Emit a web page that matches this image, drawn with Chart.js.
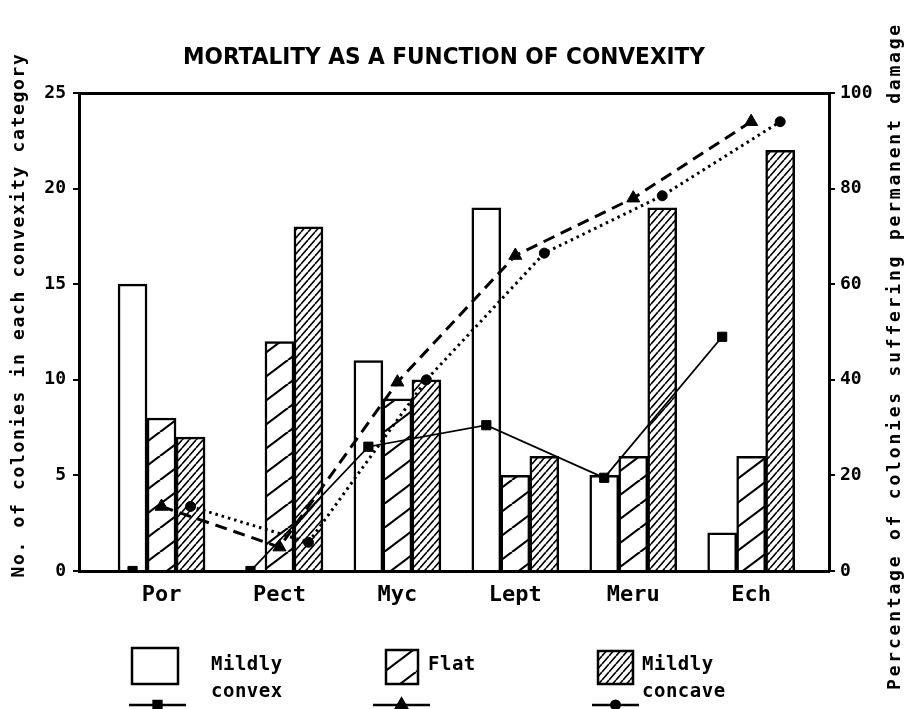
<!DOCTYPE html>
<html>
<head>
<meta charset="utf-8">
<script src="https://cdn.jsdelivr.net/npm/chart.js@4.4.1/dist/chart.umd.min.js"></script>
<style>
  html, body { margin: 0; background: #fff; }
  canvas { display: block; }
</style>
</head>
<body>
<canvas id="chart-canvas" width="910" height="709"></canvas>
<script>
// Colony counts per convexity class, and % of colonies with permanent damage
const categories = ['Por', 'Pect', 'Myc', 'Lept', 'Meru', 'Ech'];
const convexCount = [15, 0, 11, 19, 5, 2];
const flatCount = [8, 12, 9, 5, 6, 6];
const concaveCount = [7, 18, 10, 6, 19, 22];
const convexDamage = [0, 0, 26, 30.5, 19.5, 49];
const flatDamage = [13.5, 5, 39.5, 66, 78, 94];
const concaveDamage = [13.5, 6, 40, 66.5, 78.5, 94];
const countTicks = [0, 5, 10, 15, 20, 25];
const damageTicks = [0, 20, 40, 60, 80, 100];

const MONO = '"DejaVu Sans Mono", "Liberation Mono", monospace';
const BAR_WIDTH = 29;      // px
const BAR_SHIFT = 0.246;   // one bar width in x-axis units

// Diagonal hatch fill: tile of w x h with one "/" line across it
function hatch(w, h, lineWidth) {
  const c = document.createElement('canvas');
  c.width = w; c.height = h;
  const g = c.getContext('2d');
  g.fillStyle = '#fff';
  g.fillRect(0, 0, w, h);
  g.strokeStyle = '#000';
  g.lineWidth = lineWidth;
  g.beginPath();
  for (const k of [-1, 0, 1]) {
    g.moveTo(k * w, h);
    g.lineTo((k + 1) * w, 0);
  }
  g.stroke();
  return g.createPattern(c, 'repeat');
}

const flatFill = hatch(32, 24, 2.2);
const concaveFill = hatch(7, 8, 1.6);

const toPoints = (values, shift) => values.map((v, i) => ({ x: i + 1 + shift, y: v }));

function spacedText(ctx, text, x, y, width) {
  ctx.letterSpacing = '0px';
  const natural = ctx.measureText(text).width;
  ctx.letterSpacing = ((width - natural) / text.length) + 'px';
  ctx.fillText(text, x, y);
  ctx.letterSpacing = '0px';
}

// Narrow, tall lettering: draw at full size and squeeze horizontally
function squeezedText(ctx, text, x, y, width) {
  const natural = ctx.measureText(text).width;
  ctx.save();
  ctx.translate(x, y);
  ctx.scale(width / natural, 1);
  ctx.fillText(text, 0, 0);
  ctx.restore();
}

// Title, side titles and the two-row legend under the axis
const decorations = {
  id: 'decorations',
  afterDraw(chart) {
    const ctx = chart.ctx;
    const ds = chart.data.datasets;
    ctx.save();
    ctx.fillStyle = '#000';
    ctx.textBaseline = 'middle';

    ctx.textAlign = 'center';
    ctx.font = 'bold 23px "DejaVu Sans", sans-serif';
    squeezedText(ctx, 'MORTALITY AS A FUNCTION OF CONVEXITY', 444, 58, 522);

    ctx.font = 'bold 18px ' + MONO;
    ctx.save();
    ctx.translate(19, 315);
    ctx.rotate(-Math.PI / 2);
    spacedText(ctx, 'No. of colonies in each convexity category', 0, 0, 525);
    ctx.restore();
    ctx.save();
    ctx.translate(895, 356);
    ctx.rotate(-Math.PI / 2);
    spacedText(ctx, 'Percentage of colonies suffering permanent damage', 0, 0, 668);
    ctx.restore();

    const items = [
      { bar: ds[0], line: ds[3], box: [132, 648, 46, 36], text: 211, rows: ['Mildly', 'convex'], lx: [129, 186] },
      { bar: ds[1], line: ds[4], box: [386, 650, 32, 34], text: 428, rows: ['Flat'], lx: [373, 430] },
      { bar: ds[2], line: ds[5], box: [598, 651, 35, 33], text: 642, rows: ['Mildly', 'concave'], lx: [592, 639] }
    ];
    ctx.textAlign = 'left';
    ctx.font = 'bold 19px ' + MONO;
    ctx.letterSpacing = '0.5px';
    for (const it of items) {
      const [bx, by, bw, bh] = it.box;
      ctx.fillStyle = it.bar.backgroundColor;
      ctx.fillRect(bx, by, bw, bh);
      ctx.strokeStyle = '#000';
      ctx.lineWidth = 2.5;
      ctx.strokeRect(bx, by, bw, bh);
      ctx.fillStyle = '#000';
      it.rows.forEach((r, i) => ctx.fillText(r, it.text, 665 + i * 27));
      ctx.beginPath();
      ctx.lineWidth = 2.5;
      ctx.moveTo(it.lx[0], 705);
      ctx.lineTo(it.lx[1], 705);
      ctx.stroke();
      Chart.helpers.drawPoint(ctx, {
        pointStyle: it.line.pointStyle,
        radius: it.line.pointRadius * 0.85,
        rotation: 0,
        borderWidth: 1
      }, (it.lx[0] + it.lx[1]) / 2, 705);
      ctx.fill();
    }
    ctx.restore();
  }
};

Chart.defaults.font.family = MONO;
Chart.defaults.font.weight = 'bold';
Chart.defaults.color = '#000';

const barStyle = {
  type: 'bar',
  borderColor: '#000',
  borderWidth: 2.5,
  barThickness: BAR_WIDTH,
  xAxisID: 'x',
  yAxisID: 'y',
  order: 2
};
const lineStyle = {
  type: 'line',
  borderColor: '#000',
  pointBackgroundColor: '#000',
  pointBorderColor: '#000',
  pointBorderWidth: 1,
  fill: false,
  tension: 0,
  xAxisID: 'x',
  yAxisID: 'y1',
  order: 1
};

new Chart(document.getElementById('chart-canvas'), {
  type: 'bar',
  plugins: [decorations],
  data: {
    datasets: [
      { ...barStyle, label: 'Mildly convex', backgroundColor: '#fff',
        data: convexCount.map((v, i) => ({ x: i + 1, y: v })) },
      { ...barStyle, label: 'Flat', backgroundColor: flatFill,
        data: flatCount.map((v, i) => ({ x: i + 1, y: v })) },
      { ...barStyle, label: 'Mildly concave', backgroundColor: concaveFill,
        data: concaveCount.map((v, i) => ({ x: i + 1, y: v })) },
      { ...lineStyle, label: 'Mildly convex damage', borderWidth: 1.8,
        pointStyle: 'rect', pointRadius: 6.5,
        data: toPoints(convexDamage, -BAR_SHIFT) },
      { ...lineStyle, label: 'Flat damage', borderWidth: 3, borderDash: [12, 7],
        pointStyle: 'triangle', pointRadius: 7.5,
        data: toPoints(flatDamage, 0) },
      { ...lineStyle, label: 'Mildly concave damage', borderWidth: 3, borderDash: [2.5, 4],
        pointStyle: 'circle', pointRadius: 5,
        data: toPoints(concaveDamage, BAR_SHIFT) }
    ]
  },
  options: {
    responsive: false,
    animation: false,
    layout: { padding: 0 },
    plugins: {
      legend: { display: false },
      title: { display: false },
      tooltip: { enabled: false }
    },
    scales: {
      x: {
        type: 'linear',
        position: 'bottom',
        min: 0.3,
        max: 6.66,
        offset: false,
        afterBuildTicks: axis => {
          axis.ticks = categories.map((c, i) => ({ value: i + 1 }));
        },
        afterFit: axis => { axis.height = 138; },
        ticks: {
          callback: val => categories[val - 1] || '',
          font: { size: 22, weight: 'bold' },
          padding: 11,
          maxRotation: 0,
          autoSkip: false
        },
        grid: { display: false, drawTicks: false },
        border: { display: true, color: '#000', width: 3 }
      },
      xTop: {
        type: 'linear',
        position: 'top',
        min: 0,
        max: 1,
        afterFit: axis => { axis.height = 93; },
        ticks: { display: false },
        grid: { display: false, drawTicks: false },
        border: { display: true, color: '#000', width: 3 }
      },
      y: {
        type: 'linear',
        position: 'left',
        min: 0,
        max: 25,
        afterBuildTicks: axis => { axis.ticks = countTicks.map(v => ({ value: v })); },
        afterFit: axis => { axis.width = 79; },
        ticks: { font: { size: 18, weight: 'bold' }, padding: 7 },
        grid: { drawOnChartArea: false, tickLength: 6, lineWidth: 2, color: '#000' },
        border: { display: true, color: '#000', width: 3 }
      },
      y1: {
        type: 'linear',
        position: 'right',
        min: 0,
        max: 100,
        afterBuildTicks: axis => { axis.ticks = damageTicks.map(v => ({ value: v })); },
        afterFit: axis => { axis.width = 81; },
        ticks: { font: { size: 18, weight: 'bold' }, padding: 5 },
        grid: { drawOnChartArea: false, tickLength: 6, lineWidth: 2, color: '#000' },
        border: { display: true, color: '#000', width: 3 }
      }
    }
  }
});
</script>
</body>
</html>
